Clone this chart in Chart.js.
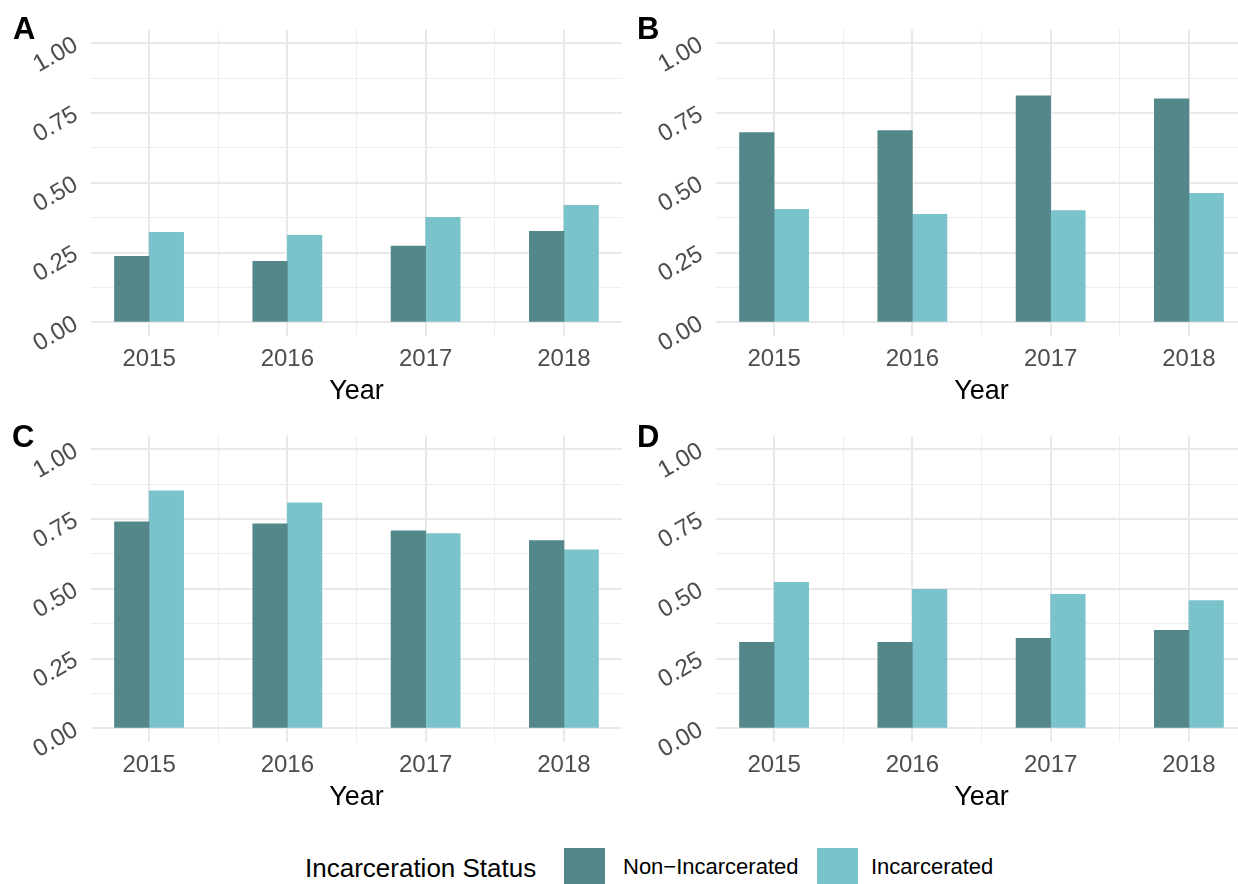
<!DOCTYPE html>
<html>
<head>
<meta charset="utf-8">
<title>Incarceration Status by Year</title>
<script src="https://cdn.jsdelivr.net/npm/chart.js@4.4.0/dist/chart.umd.min.js"></script>
<style>
  html, body { margin: 0; padding: 0; width: 1238px; height: 884px; overflow: hidden; background: #fff; }
  body { position: relative; font-family: "Liberation Sans", Arial, sans-serif; }
  canvas { position: absolute; }
  .tag { position: absolute; font-weight: bold; font-size: 31px; line-height: 1; color: #000; }
  .legend-text { position: absolute; line-height: 1; color: #000; white-space: nowrap; }
  .key { position: absolute; width: 41px; height: 41px; }
</style>
</head>
<body>
<canvas id="chartA" width="630" height="410" style="left:0px;top:0px"></canvas>
<canvas id="chartB" width="630" height="410" style="left:625px;top:0px"></canvas>
<canvas id="chartC" width="630" height="410" style="left:0px;top:406px"></canvas>
<canvas id="chartD" width="630" height="410" style="left:625px;top:406px"></canvas>

<div class="tag" style="left:13px;top:13px">A</div>
<div class="tag" style="left:637px;top:13px">B</div>
<div class="tag" style="left:12px;top:421px">C</div>
<div class="tag" style="left:637px;top:421px">D</div>

<div class="legend-text" style="left:305px;top:855px;font-size:26px">Incarceration Status</div>
<div class="key" style="left:564px;top:848px;background:#53878A"></div>
<div class="legend-text" style="left:623px;top:856px;font-size:22px">Non−Incarcerated</div>
<div class="key" style="left:817px;top:848px;background:#7AC3CB"></div>
<div class="legend-text" style="left:871px;top:856px;font-size:22px">Incarcerated</div>

<script>
const years = ['2015', '2016', '2017', '2018'];
const statusLabels = ['Non−Incarcerated', 'Incarcerated'];
const yTickValues = [0, 0.25, 0.5, 0.75, 1];

const panelANon = [0.237, 0.219, 0.273, 0.326];
const panelAInc = [0.323, 0.312, 0.376, 0.419];
const panelBNon = [0.680, 0.687, 0.812, 0.801];
const panelBInc = [0.405, 0.387, 0.401, 0.462];
const panelCNon = [0.740, 0.733, 0.708, 0.673];
const panelCInc = [0.851, 0.808, 0.698, 0.640];
const panelDNon = [0.308, 0.308, 0.323, 0.351];
const panelDInc = [0.523, 0.498, 0.480, 0.458];

const colors = ['#53878A', '#7AC3CB'];
const fontFamily = '"Liberation Sans", Arial, sans-serif';
const gridMajor = '#E9E9E9';
const gridMinor = '#EEEEEE';

// major grid at each year / tick value, minor grid halfway between them
const xGrid = [];
years.forEach((y, i) => {
  xGrid.push(i);
  if (i < years.length - 1) xGrid.push(i + 0.5);
});
const yGrid = [];
yTickValues.forEach((v, i) => {
  yGrid.push(v);
  if (i < yTickValues.length - 1) yGrid.push((v + yTickValues[i + 1]) / 2);
});

function isMajorY(v) {
  return yTickValues.some((t) => Math.abs(t - v) < 1e-9);
}

function drawPanel(id, nonValues, incValues) {
  const ctx = document.getElementById(id).getContext('2d');
  return new Chart(ctx, {
    type: 'bar',
    data: {
      datasets: [
        {
          label: statusLabels[0],
          data: nonValues.map((v, i) => ({ x: i, y: v })),
          backgroundColor: colors[0],
        },
        {
          label: statusLabels[1],
          data: incValues.map((v, i) => ({ x: i, y: v })),
          backgroundColor: colors[1],
        },
      ],
    },
    options: {
      responsive: false,
      animation: false,
      layout: { autoPadding: false, padding: { left: 0, top: 28, right: 8, bottom: 0 } },
      datasets: { bar: { categoryPercentage: 1, barPercentage: 1, borderWidth: 0 } },
      plugins: { legend: { display: false }, tooltip: { enabled: false } },
      scales: {
        x: {
          type: 'linear',
          min: -0.42,
          max: years.length - 1 + 0.42,
          offset: false,
          afterBuildTicks: (axis) => { axis.ticks = xGrid.map((v) => ({ value: v })); },
          afterFit: (axis) => { axis.height = 73.7; },
          border: { display: false },
          grid: {
            offset: false,
            drawTicks: false,
            color: (c) => (Number.isInteger(c.tick.value) ? gridMajor : gridMinor),
            lineWidth: (c) => (Number.isInteger(c.tick.value) ? 2 : 1),
          },
          ticks: {
            autoSkip: false,
            maxRotation: 0,
            padding: 9,
            color: '#4D4D4D',
            font: { family: fontFamily, size: 24 },
            callback: (value) => (Number.isInteger(value) ? years[value] : ''),
          },
          title: {
            display: true,
            text: 'Year',
            color: '#000',
            font: { family: fontFamily, size: 27 },
            padding: { top: 0, bottom: 2 },
          },
        },
        y: {
          type: 'linear',
          min: -0.05,
          max: 1.05,
          afterBuildTicks: (axis) => { axis.ticks = yGrid.map((v) => ({ value: v })); },
          afterFit: (axis) => { axis.width = 91; },
          border: { display: false },
          grid: {
            drawTicks: false,
            color: (c) => (isMajorY(c.tick.value) ? gridMajor : gridMinor),
            lineWidth: (c) => (isMajorY(c.tick.value) ? 2 : 1),
          },
          ticks: {
            autoSkip: false,
            minRotation: 30,
            maxRotation: 30,
            padding: 15,
            color: '#4D4D4D',
            font: { family: fontFamily, size: 24 },
            callback: (value) => (isMajorY(value) ? value.toFixed(2) : ''),
          },
        },
      },
    },
  });
}

drawPanel('chartA', panelANon, panelAInc);
drawPanel('chartB', panelBNon, panelBInc);
drawPanel('chartC', panelCNon, panelCInc);
drawPanel('chartD', panelDNon, panelDInc);
</script>
</body>
</html>
